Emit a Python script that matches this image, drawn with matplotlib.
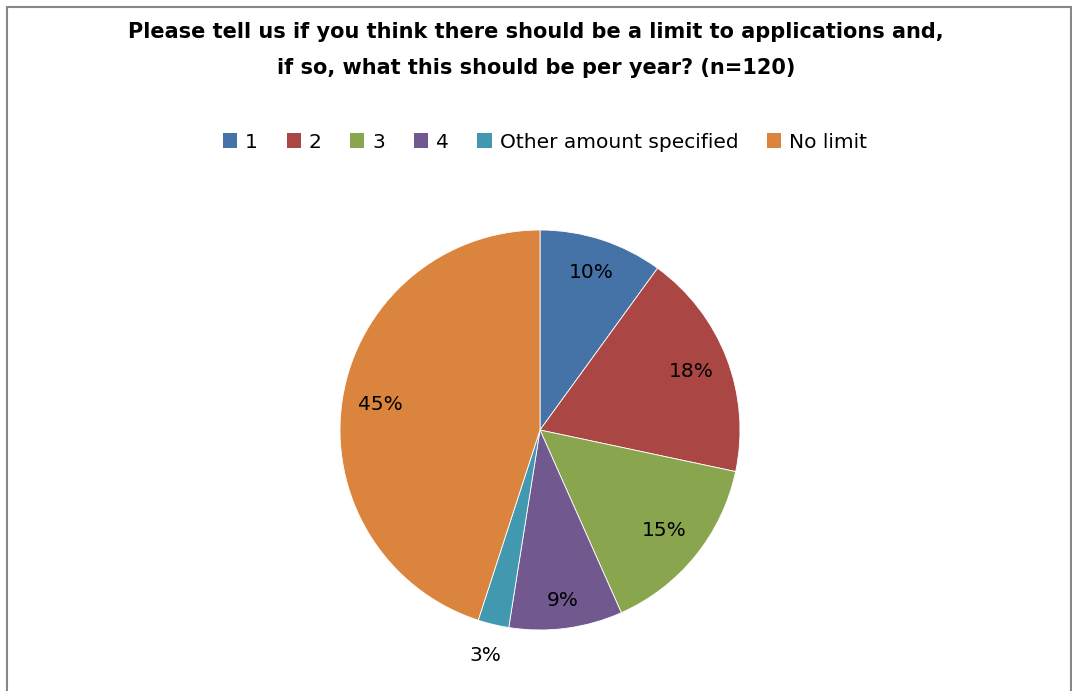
import matplotlib
matplotlib.use("Agg")
import matplotlib.pyplot as plt
import numpy as np
from matplotlib.patches import Rectangle

categories = ["1", "2", "3", "4", "Other amount specified", "No limit"]
counts = [12, 22, 18, 11, 3, 54]
pct_labels = ["10%", "18%", "15%", "9%", "3%", "45%"]
colors = ["#4572A7", "#AA4643", "#89A54E", "#71588F", "#4198AF", "#DB843D"]
title = "Please tell us if you think there should be a limit to applications and,\nif so, what this should be per year? (n=120)"

plt.rcParams['font.family'] = ['DejaVu Sans']

W, H = 1072, 691
fig = plt.figure(figsize=(W/100, H/100), dpi=100)
fig.patch.set_facecolor("white")

# border
fig.add_artist(Rectangle((7/W, -0.01), (1071-7)/W, 1 - 7/H + 0.01, transform=fig.transFigure,
                         fill=False, edgecolor="#878787", linewidth=1.5))

ax = fig.add_axes([340/W, 1-630/H, 400/W, 400/H])
wedges, _ = ax.pie(counts, colors=colors, startangle=90, counterclock=False,
                   radius=1, wedgeprops=dict(edgecolor="white", linewidth=0.6))
ax.set_xlim(-1, 1)
ax.set_ylim(-1, 1)
ax.set_aspect("equal")
ax.axis("off")

dists = [0.83, 0.81, 0.80, 0.86, 1.16, 0.81]
for w, lab, d in zip(wedges, pct_labels, dists):
    ang = np.deg2rad((w.theta1 + w.theta2) / 2)
    ax.text(d*np.cos(ang), d*np.sin(ang), lab, ha="center", va="center",
            fontsize=14.5, color="black", clip_on=False)

fig.text(536/W, 1-50/H, title, ha="center", va="center", fontsize=15,
         fontweight="bold", linespacing=2.0)

handles = [Rectangle((0, 0), 1, 1, facecolor=c, edgecolor="none") for c in colors]
fig.legend(handles, categories, loc="center", bbox_to_anchor=(545/W, 1-142/H),
           ncol=6, frameon=False, fontsize=14.5, handlelength=0.7, handleheight=0.7,
           handletextpad=0.4, columnspacing=1.42)

fig.savefig("out.png", dpi=100, facecolor="white")
